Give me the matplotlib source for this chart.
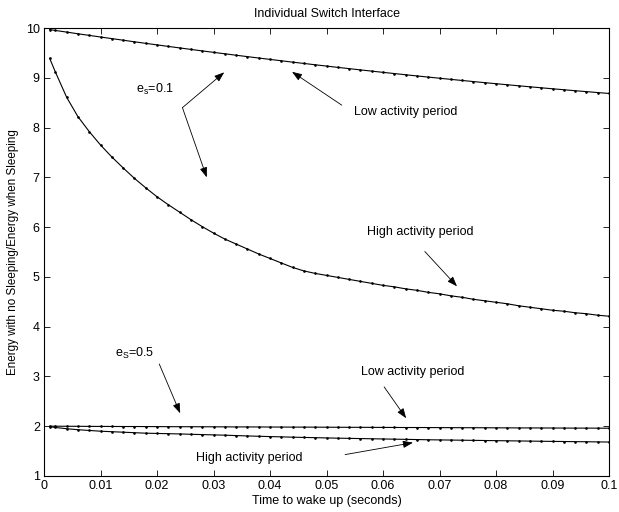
import numpy as np
import matplotlib
matplotlib.use("Agg")
import matplotlib.pyplot as plt

plt.rcParams['font.family'] = ['Liberation Sans', 'DejaVu Sans']
plt.rcParams['mathtext.fontset'] = 'custom'
plt.rcParams['mathtext.rm'] = 'Liberation Sans'
plt.rcParams['mathtext.default'] = 'regular'

# time to wake up (seconds)
t_wake = np.concatenate(([0.001], np.arange(0.002, 0.1001, 0.002)))

# e_s = 0.1, low activity period
low_01 = [9.968,
          9.951, 9.918, 9.884, 9.852, 9.819, 9.787, 9.755, 9.723, 9.692, 9.661,
          9.630, 9.600, 9.570, 9.540, 9.511, 9.482, 9.453, 9.425, 9.397, 9.369,
          9.342, 9.314, 9.288, 9.261, 9.235, 9.209, 9.184, 9.158, 9.134, 9.109,
          9.085, 9.061, 9.037, 9.014, 8.991, 8.968, 8.946, 8.924, 8.902, 8.881,
          8.860, 8.839, 8.819, 8.799, 8.779, 8.760, 8.740, 8.722, 8.703, 8.685]

# e_s = 0.1, high activity period
high_01 = [9.39,
           9.12, 8.61, 8.22, 7.92, 7.65, 7.41, 7.19, 6.98, 6.79, 6.61,
           6.45, 6.30, 6.15, 6.01, 5.88, 5.76, 5.66, 5.56, 5.46, 5.37,
           5.28, 5.19, 5.12, 5.07, 5.03, 4.99, 4.95, 4.91, 4.87, 4.83,
           4.80, 4.76, 4.73, 4.69, 4.66, 4.62, 4.59, 4.55, 4.52, 4.49,
           4.46, 4.42, 4.39, 4.36, 4.33, 4.31, 4.28, 4.26, 4.23, 4.21]

# e_s = 0.5, low activity period
low_05 = [2.000,
          2.000, 1.999, 1.998, 1.997, 1.996, 1.995, 1.994, 1.994, 1.993, 1.992,
          1.991, 1.990, 1.990, 1.989, 1.988, 1.987, 1.986, 1.986, 1.985, 1.984,
          1.983, 1.982, 1.982, 1.981, 1.980, 1.979, 1.978, 1.978, 1.977, 1.976,
          1.975, 1.974, 1.974, 1.973, 1.972, 1.971, 1.970, 1.970, 1.969, 1.968,
          1.967, 1.966, 1.966, 1.965, 1.964, 1.963, 1.962, 1.962, 1.961, 1.960]

# e_s = 0.5, high activity period
high_05 = [1.990,
           1.975, 1.950, 1.930, 1.915, 1.900, 1.890, 1.880, 1.870, 1.860, 1.855,
           1.850, 1.845, 1.838, 1.832, 1.826, 1.820, 1.812, 1.805, 1.798, 1.792,
           1.786, 1.780, 1.775, 1.770, 1.765, 1.760, 1.756, 1.752, 1.748, 1.744,
           1.740, 1.736, 1.732, 1.728, 1.725, 1.722, 1.719, 1.716, 1.713, 1.710,
           1.707, 1.704, 1.701, 1.698, 1.695, 1.693, 1.690, 1.688, 1.685, 1.682]

x_ticks = [0, 0.01, 0.02, 0.03, 0.04, 0.05, 0.06, 0.07, 0.08, 0.09, 0.1]
x_labels = ['0', '0.01', '0.02', '0.03', '0.04', '0.05', '0.06', '0.07', '0.08', '0.09', '0.1']
y_ticks = [1, 2, 3, 4, 5, 6, 7, 8, 9, 10]

fig = plt.figure(figsize=(6.19, 5.12), dpi=100)
ax = fig.add_axes([44 / 619, 36 / 512, 565 / 619, 448 / 512])

for ys in [low_01, high_01, low_05, high_05]:
    ax.plot(t_wake, ys, 'k.-', lw=0.8, ms=1.8)

ax.set_xlim(0, 0.1)
ax.set_ylim(1, 10)
ax.set_xticks(x_ticks)
ax.set_xticklabels(x_labels)
ax.set_yticks(y_ticks)
ax.tick_params(direction='in', top=True, right=True, length=4, width=0.6,
               labelsize=9, pad=3)
for s in ax.spines.values():
    s.set_linewidth(0.8)

ax.set_title('Individual Switch Interface', fontsize=9, pad=8)
ax.set_xlabel('Time to wake up (seconds)', fontsize=9, labelpad=2)
ax.set_ylabel('Energy with no Sleeping/Energy when Sleeping', fontsize=8.4, labelpad=5)

arr = dict(arrowstyle='-|>,head_length=0.6,head_width=0.22', color='k', lw=0.6,
           shrinkA=0, shrinkB=0, mutation_scale=10)

def arrow(start, tip):
    ax.annotate('', xy=tip, xytext=start, arrowprops=arr)

ax.text(0.0163, 8.69, r'e$_s$=0.1', fontsize=9, va='baseline')
arrow((0.0245, 8.40), (0.0319, 9.11))
arrow((0.0245, 8.40), (0.0288, 7.00))

ax.text(0.0548, 8.32, 'Low activity period', fontsize=9, va='center')
arrow((0.0527, 8.45), (0.0439, 9.12))

ax.text(0.0571, 5.91, 'High activity period', fontsize=9, va='center')
arrow((0.0674, 5.51), (0.0731, 4.81))

ax.text(0.0125, 3.40, r'e$_S$=0.5', fontsize=9, va='baseline')
arrow((0.0204, 3.25), (0.0241, 2.26))

ax.text(0.0561, 3.08, 'Low activity period', fontsize=9, va='center')
arrow((0.0602, 2.79), (0.0641, 2.16))

ax.text(0.0269, 1.36, 'High activity period', fontsize=9, va='center')
arrow((0.0533, 1.43), (0.0653, 1.67))

fig.savefig('out.png', dpi=100)
